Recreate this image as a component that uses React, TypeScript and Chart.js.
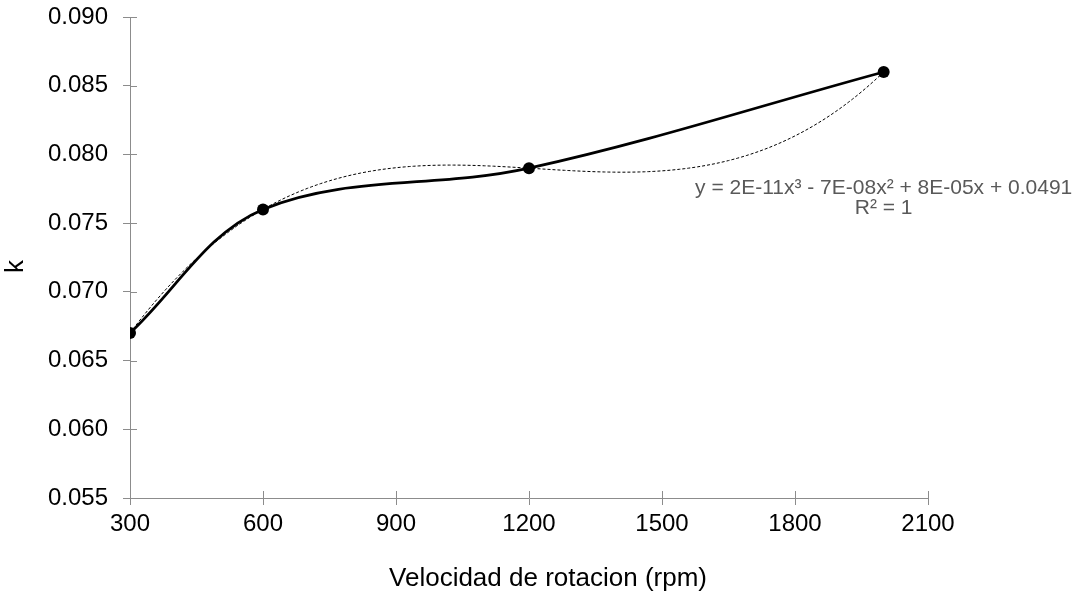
import React, { useEffect, useRef } from "react";
import { Chart, registerables } from "chart.js";

Chart.register(...registerables);

// ---- data ----
const speeds = [300, 600, 1200, 2000];
const kValues = [0.067, 0.076, 0.079, 0.086];
const xTickValues = [300, 600, 900, 1200, 1500, 1800, 2100];
const yTickValues = [0.055, 0.06, 0.065, 0.07, 0.075, 0.08, 0.085, 0.09];
const xTitle = "Velocidad de rotacion (rpm)";
const yTitle = "k";
const equationLines = ["y = 2E-11x³ - 7E-08x² + 8E-05x + 0.0491", "R² = 1"];

// polynomial (order 3) trendline through the data, as the spreadsheet computes it
function cubicTrend(xs: number[], ys: number[]) {
  return (x: number) => {
    let s = 0;
    for (let i = 0; i < xs.length; i++) {
      let t = ys[i];
      for (let j = 0; j < xs.length; j++) {
        if (j !== i) t *= (x - xs[j]) / (xs[i] - xs[j]);
      }
      s += t;
    }
    return s;
  };
}

const AXIS_COLOR = "#8c8c8c";
const FONT = "'Liberation Sans', Arial, sans-serif";

export default function App() {
  const ref = useRef<HTMLCanvasElement | null>(null);

  useEffect(() => {
    const canvas = ref.current;
    if (!canvas) return;
    const f = cubicTrend(speeds, kValues);
    const trend: { x: number; y: number }[] = [];
    const x0 = speeds[0];
    const x1 = speeds[speeds.length - 1];
    for (let x = x0; x <= x1; x += 10) trend.push({ x, y: f(x) });

    const decor = {
      id: "decor",
      afterDraw(chart: any) {
        const ctx = chart.ctx;
        const xs = chart.scales.x;
        const ys = chart.scales.y;
        const area = chart.chartArea;
        ctx.save();
        // inner halves of the crossing tick marks
        ctx.strokeStyle = AXIS_COLOR;
        ctx.lineWidth = 1;
        ctx.beginPath();
        xTickValues.forEach((v) => {
          const px = Math.round(xs.getPixelForValue(v)) + 0.5;
          ctx.moveTo(px, area.bottom);
          ctx.lineTo(px, area.bottom - 7);
        });
        yTickValues.forEach((v) => {
          const py = Math.round(ys.getPixelForValue(v)) + 0.5;
          ctx.moveTo(area.left, py);
          ctx.lineTo(area.left + 7, py);
        });
        ctx.stroke();

        // axis titles
        ctx.fillStyle = "#000";
        ctx.font = `26px ${FONT}`;
        ctx.textAlign = "center";
        ctx.textBaseline = "middle";
        ctx.fillText(xTitle, (area.left + area.right) / 2 + 19, 579);
        ctx.save();
        ctx.translate(16, (area.top + area.bottom) / 2 + 9);
        ctx.rotate(-Math.PI / 2);
        ctx.fillText(yTitle, 0, 0);
        ctx.restore();

        // trendline label
        ctx.fillStyle = "#595959";
        ctx.font = `21px ${FONT}`;
        ctx.textBaseline = "alphabetic";
        const lx = xs.getPixelForValue(2000);
        const ly = ys.getPixelForValue(0.078);
        ctx.fillText(equationLines[0], lx, ly + 12);
        ctx.fillText(equationLines[1], lx, ly + 32);
        ctx.restore();
      },
    };

    const chart = new Chart(canvas, {
      type: "line",
      data: {
        datasets: [
          {
            label: "Polinómica",
            data: trend,
            borderColor: "#000",
            borderWidth: 1,
            borderDash: [3, 2],
            pointRadius: 0,
            tension: 0,
            order: 0,
          },
          {
            label: "k",
            data: speeds.map((x, i) => ({ x, y: kValues[i] })),
            borderColor: "#000",
            backgroundColor: "#000",
            borderWidth: 2.75,
            pointRadius: 6,
            pointBackgroundColor: "#000",
            pointBorderColor: "#000",
            pointBorderWidth: 0,
            tension: 0.35,
            order: 1,
          },
        ],
      },
      options: {
        animation: false,
        responsive: false,
        devicePixelRatio: 1,
        layout: { padding: { top: 17, right: 162, left: 0, bottom: 0 } },
        plugins: {
          legend: { display: false },
          tooltip: { enabled: false },
          title: { display: false },
        },
        scales: {
          x: {
            type: "linear",
            min: 300,
            max: 2100,
            afterBuildTicks: (s: any) => {
              s.ticks = xTickValues.map((v) => ({ value: v }));
            },
            afterFit: (s: any) => {
              s.height = 100;
              s.paddingLeft = 0;
              s.paddingRight = 0;
            },
            grid: {
              display: true,
              drawOnChartArea: false,
              drawTicks: true,
              tickLength: 7,
              color: AXIS_COLOR,
            },
            border: { display: true, color: AXIS_COLOR, width: 1 },
            ticks: {
              color: "#000",
              font: { family: FONT, size: 24 },
              padding: 5,
              maxRotation: 0,
              autoSkip: false,
              callback: (v: any) => String(v),
            },
          },
          y: {
            type: "linear",
            min: 0.055,
            max: 0.09,
            afterBuildTicks: (s: any) => {
              s.ticks = yTickValues.map((v) => ({ value: v }));
            },
            afterFit: (s: any) => {
              s.width = 130;
              s.paddingTop = 0;
              s.paddingBottom = 0;
            },
            grid: {
              display: true,
              drawOnChartArea: false,
              drawTicks: true,
              tickLength: 7,
              color: AXIS_COLOR,
            },
            border: { display: true, color: AXIS_COLOR, width: 1 },
            ticks: {
              color: "#000",
              font: { family: FONT, size: 24 },
              padding: 15,
              autoSkip: false,
              callback: (v: any) => Number(v).toFixed(3),
            },
          },
        },
      },
      plugins: [decor],
    } as any);

    return () => chart.destroy();
  }, []);

  return (
    <div style={{ position: "absolute", left: 0, top: 0, width: 1090, height: 598, background: "#fff" }}>
      <canvas ref={ref} width={1090} height={598} />
    </div>
  );
}
